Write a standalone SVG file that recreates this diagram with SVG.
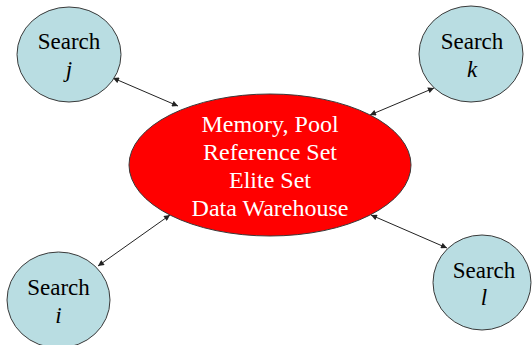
<svg xmlns="http://www.w3.org/2000/svg" width="532" height="345" viewBox="0 0 532 345">
<style>
.search{fill:#b9dde2;stroke:#3a3a3a;stroke-width:1}
.hub{fill:#ff0000;stroke:#3a3a3a;stroke-width:1}
text{font-family:"Liberation Serif","Times New Roman",serif;text-anchor:middle}
.st{font-size:23px;fill:#000}
.it{font-style:italic}
.ht{font-size:24px;fill:#ffffff}
.conn{stroke:#222;stroke-width:1;fill:none;marker-start:url(#ah);marker-end:url(#ah)}
</style>
<defs>
<marker id="ah" viewBox="0 0 10 10" refX="10" refY="5" markerWidth="8" markerHeight="6" markerUnits="userSpaceOnUse" orient="auto-start-reverse">
<path d="M0,0 L10,5 L0,10 z" fill="#222"/>
</marker>
</defs>
<rect width="532" height="345" fill="#ffffff"/>
<g id="connectors">
<line class="conn" x1="113" y1="78" x2="178" y2="106"/>
<line class="conn" x1="434" y1="88" x2="370" y2="115"/>
<line class="conn" x1="98" y1="266" x2="170" y2="215"/>
<line class="conn" x1="371" y1="215" x2="447" y2="248"/>
</g>
<g id="hub">
<ellipse class="hub" cx="270" cy="165" rx="141" ry="71"/>
<text class="ht" x="270" y="132">Memory, Pool</text>
<text class="ht" x="270" y="160">Reference Set</text>
<text class="ht" x="270" y="188">Elite Set</text>
<text class="ht" x="270" y="216">Data Warehouse</text>
</g>
<g id="search-j">
<ellipse class="search" cx="69" cy="54.5" rx="52" ry="47.5"/>
<text class="st" x="69" y="49">Search</text>
<text class="st it" x="69" y="77">j</text>
</g>
<g id="search-k">
<ellipse class="search" cx="471" cy="54" rx="52" ry="48"/>
<text class="st" x="472" y="49">Search</text>
<text class="st it" x="472" y="77">k</text>
</g>
<g id="search-i">
<ellipse class="search" cx="58.5" cy="300" rx="51.5" ry="48"/>
<text class="st" x="58.5" y="295">Search</text>
<text class="st it" x="58.5" y="323">i</text>
</g>
<g id="search-l">
<ellipse class="search" cx="482" cy="282.5" rx="49" ry="47.5"/>
<text class="st" x="484" y="278">Search</text>
<text class="st it" x="484" y="305">l</text>
</g>
</svg>
